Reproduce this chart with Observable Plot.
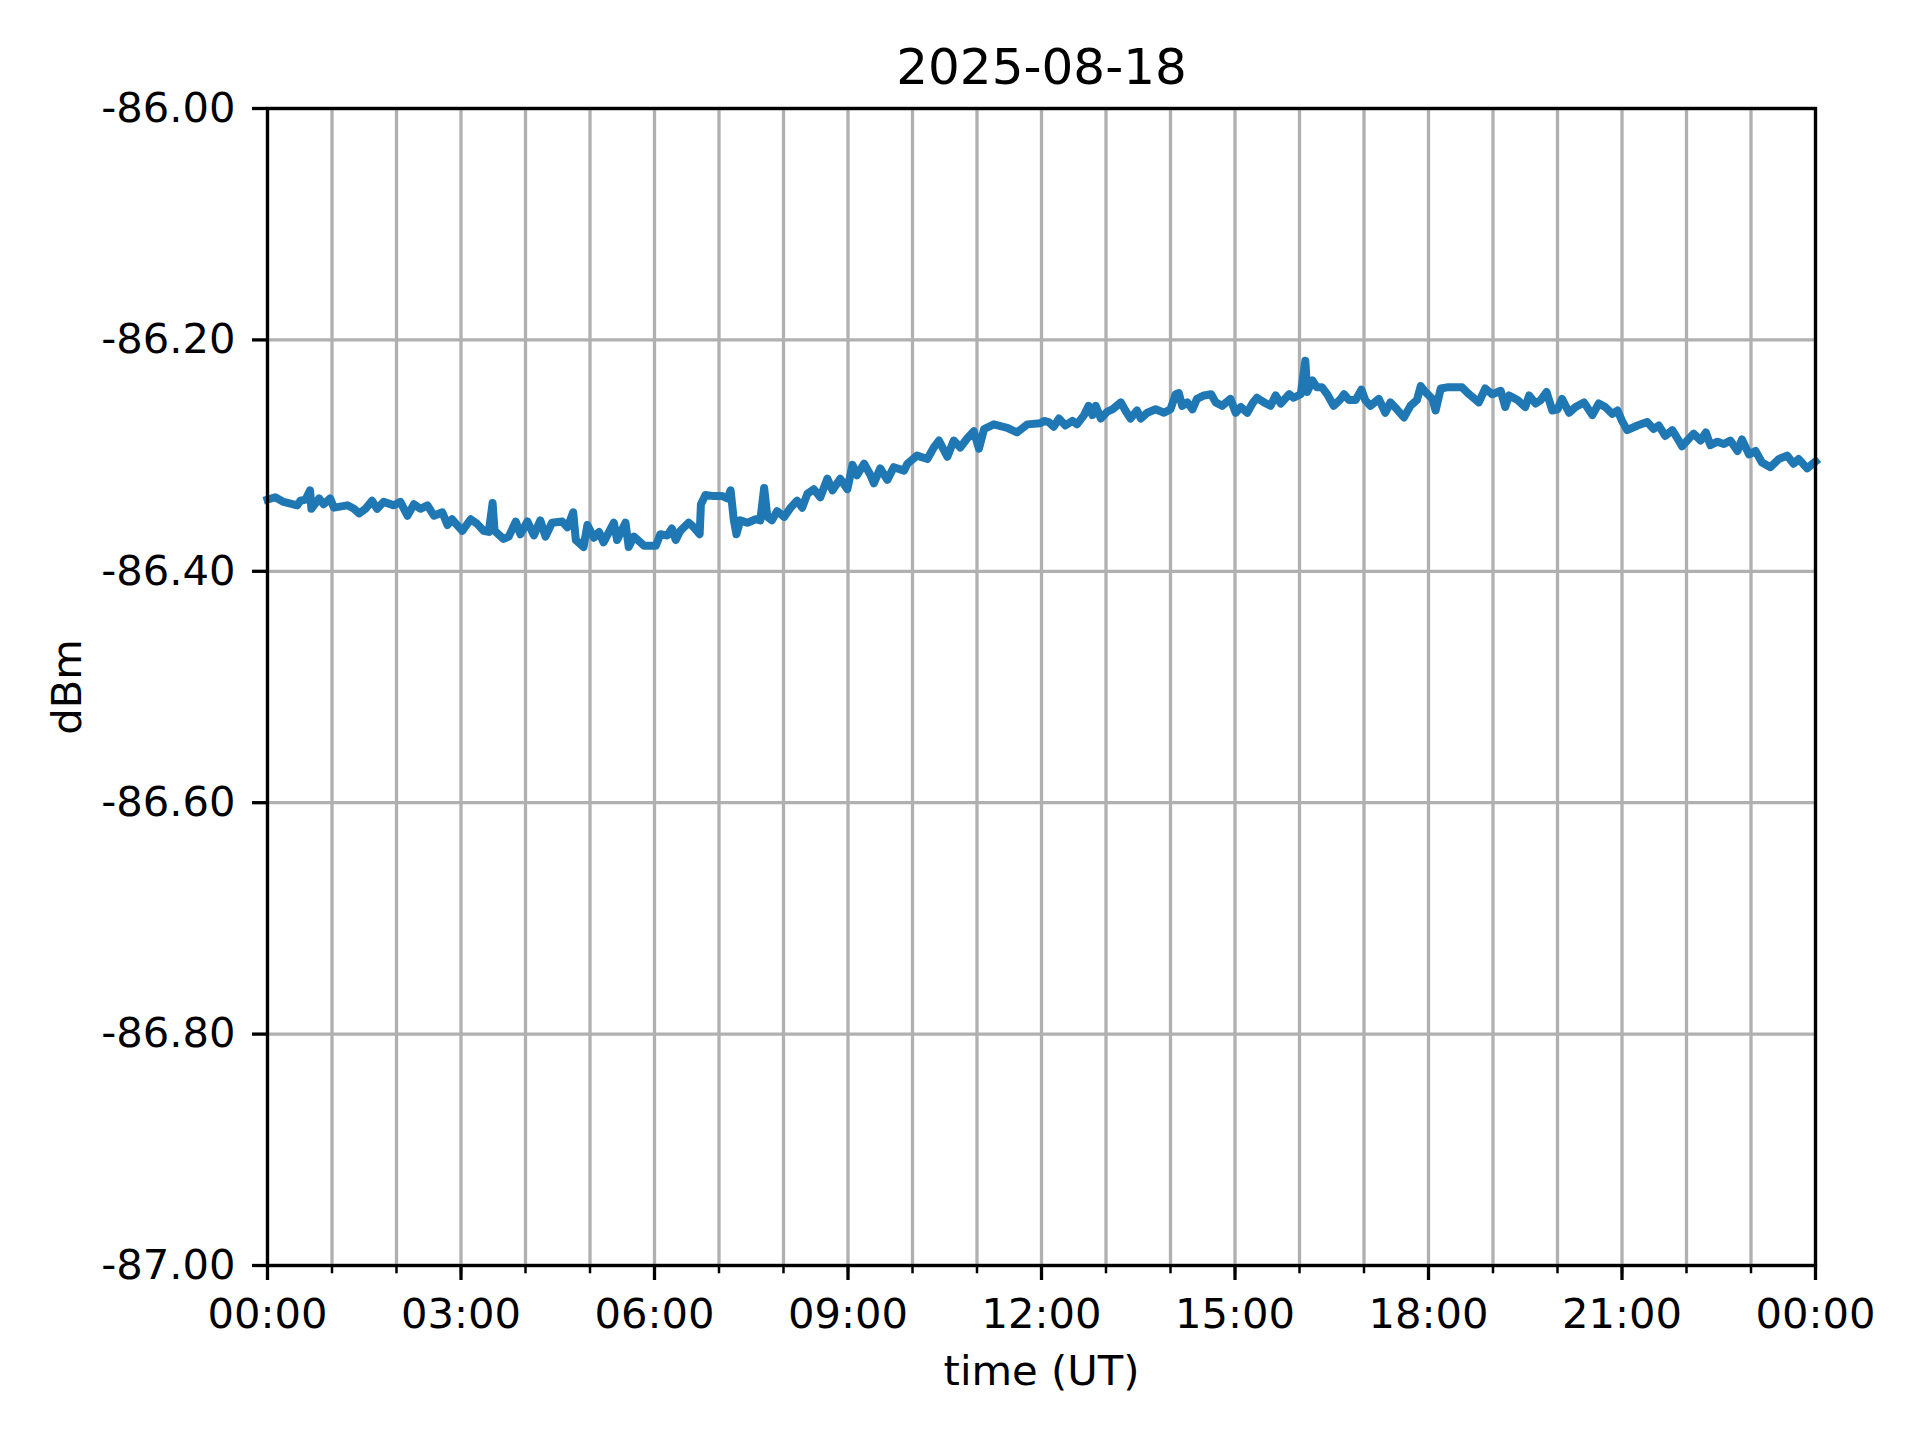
<!DOCTYPE html>
<html><head><meta charset="utf-8">
<script src="https://cdn.jsdelivr.net/npm/d3@7"></script>
<script src="https://cdn.jsdelivr.net/npm/@observablehq/plot@0.6"></script>
<style>body{margin:0;background:#fff} #chart svg{display:block}</style>
</head><body><div id="chart"></div>
<script>
const title = "2025-08-18";
const xLabel = "time (UT)";
const yLabel = "dBm";
const dayStart = "2025-08-18T00:00:00Z";
const dayEnd = "2025-08-19T00:00:00Z";
const yTicks = [-87, -86.8, -86.6, -86.4, -86.2, -86];

// hours after 00:00 UT
const hoursUT = [
 0.00,0.12,0.25,0.46,0.51,0.59,0.66,0.68,0.80,0.87,0.97,1.03,1.24,1.34,1.42,1.52,1.62,1.70,1.80,1.96,
 2.06,2.17,2.27,2.37,2.48,2.58,2.71,2.79,2.86,3.02,3.15,3.25,3.35,3.43,3.49,3.52,3.66,3.74,3.85,3.92,
 4.03,4.13,4.23,4.31,4.41,4.57,4.65,4.74,4.78,4.90,4.96,5.06,5.14,5.21,5.37,5.42,5.55,5.60,5.68,5.84,
 6.02,6.09,6.20,6.27,6.33,6.40,6.53,6.61,6.70,6.72,6.79,6.92,7.05,7.13,7.18,7.23,7.27,7.33,7.44,7.57,
 7.64,7.70,7.75,7.82,7.90,8.01,8.11,8.21,8.29,8.37,8.47,8.57,8.68,8.76,8.88,8.99,9.07,9.14,9.25,9.35,
 9.40,9.50,9.61,9.71,9.87,9.92,10.07,10.23,10.33,10.41,10.54,10.64,10.74,10.85,10.95,11.03,11.11,11.26,11.47,11.62,
 11.78,11.98,12.04,12.11,12.19,12.27,12.37,12.48,12.55,12.66,12.73,12.79,12.84,12.92,13.02,13.10,13.23,13.30,13.38,13.48,
 13.54,13.64,13.77,13.90,14.00,14.08,14.13,14.18,14.26,14.34,14.41,14.52,14.63,14.70,14.80,14.93,15.01,15.09,15.19,15.27,
 15.34,15.45,15.55,15.63,15.71,15.84,15.91,16.02,16.09,16.12,16.20,16.27,16.35,16.43,16.53,16.64,16.69,16.77,16.87,16.96,
 17.02,17.10,17.23,17.33,17.41,17.51,17.62,17.72,17.82,17.88,17.95,18.06,18.11,18.19,18.29,18.44,18.52,18.63,18.78,18.88,
 18.99,19.12,19.19,19.25,19.38,19.50,19.56,19.66,19.74,19.83,19.92,20.00,20.07,20.18,20.28,20.41,20.54,20.64,20.74,20.85,
 20.93,21.00,21.08,21.24,21.39,21.49,21.57,21.67,21.78,21.88,21.93,22.01,22.11,22.22,22.30,22.37,22.48,22.58,22.68,22.79,
 22.86,22.97,23.07,23.17,23.30,23.43,23.56,23.66,23.74,23.87,24.00
];
const dbm = [
 -86.338,-86.336,-86.340,-86.343,-86.339,-86.338,-86.330,-86.346,-86.337,-86.342,-86.337,-86.345,-86.343,-86.346,-86.350,-86.346,-86.339,-86.346,-86.340,-86.343,
 -86.340,-86.352,-86.342,-86.346,-86.343,-86.352,-86.349,-86.360,-86.355,-86.365,-86.355,-86.359,-86.365,-86.366,-86.341,-86.365,-86.372,-86.370,-86.357,-86.368,
 -86.357,-86.369,-86.356,-86.370,-86.358,-86.357,-86.362,-86.349,-86.373,-86.379,-86.360,-86.371,-86.366,-86.375,-86.358,-86.373,-86.358,-86.379,-86.370,-86.378,
 -86.378,-86.368,-86.369,-86.363,-86.373,-86.365,-86.358,-86.362,-86.368,-86.342,-86.334,-86.335,-86.335,-86.337,-86.330,-86.356,-86.368,-86.356,-86.358,-86.355,
 -86.356,-86.328,-86.353,-86.356,-86.348,-86.353,-86.345,-86.339,-86.345,-86.333,-86.329,-86.336,-86.320,-86.330,-86.320,-86.329,-86.308,-86.317,-86.307,-86.317,
 -86.324,-86.311,-86.321,-86.310,-86.313,-86.307,-86.300,-86.303,-86.293,-86.287,-86.301,-86.287,-86.293,-86.285,-86.279,-86.294,-86.277,-86.273,-86.276,-86.280,
 -86.273,-86.272,-86.270,-86.271,-86.275,-86.268,-86.274,-86.270,-86.273,-86.265,-86.257,-86.265,-86.257,-86.268,-86.262,-86.260,-86.254,-86.261,-86.268,-86.261,
 -86.268,-86.263,-86.260,-86.263,-86.260,-86.247,-86.246,-86.257,-86.254,-86.260,-86.251,-86.248,-86.247,-86.254,-86.257,-86.251,-86.263,-86.258,-86.263,-86.255,
 -86.250,-86.254,-86.257,-86.248,-86.255,-86.247,-86.250,-86.247,-86.218,-86.245,-86.235,-86.241,-86.241,-86.247,-86.257,-86.251,-86.247,-86.252,-86.252,-86.243,
 -86.252,-86.257,-86.251,-86.263,-86.254,-86.260,-86.267,-86.257,-86.252,-86.240,-86.245,-86.251,-86.261,-86.242,-86.241,-86.241,-86.241,-86.247,-86.254,-86.242,
 -86.247,-86.244,-86.258,-86.248,-86.252,-86.258,-86.248,-86.255,-86.252,-86.245,-86.261,-86.260,-86.251,-86.263,-86.258,-86.254,-86.265,-86.255,-86.258,-86.264,
 -86.261,-86.270,-86.278,-86.274,-86.271,-86.277,-86.274,-86.283,-86.278,-86.287,-86.292,-86.287,-86.281,-86.287,-86.280,-86.291,-86.288,-86.290,-86.287,-86.296,
 -86.286,-86.299,-86.296,-86.306,-86.310,-86.303,-86.300,-86.307,-86.303,-86.311,-86.305
];

const t0 = new Date(dayStart);
const t1 = new Date(dayEnd);
const data = hoursUT.map((h, i) => ({time: new Date(+t0 + h * 3600000), dbm: dbm[i]}));
const majorTicks = d3.utcHour.every(3).range(t0, new Date(+t1 + 1));
const minorTicks = d3.utcHour.every(1).range(t0, new Date(+t1 + 1));

const FS = 41.67;
const chart = Plot.plot({
  width: 1920, height: 1440,
  marginTop: 108, marginBottom: 175, marginLeft: 267, marginRight: 105,
  style: {fontFamily: "'DejaVu Sans', sans-serif", background: "#fff", color: "#000", fontSize: FS + "px"},
  x: {type: "utc", domain: [t0, t1]},
  y: {domain: [-87, -86]},
  marks: [
    Plot.gridX({ticks: minorTicks, stroke: "#b0b0b0", strokeOpacity: 1, strokeWidth: 3.3}),
    Plot.gridY({ticks: yTicks, stroke: "#b0b0b0", strokeOpacity: 1, strokeWidth: 3.3}),
    Plot.line(data, {x: "time", y: "dbm", stroke: "#1f77b4", strokeWidth: 8, strokeLinejoin: "round", strokeLinecap: "square"}),
    Plot.frame({stroke: "#000", strokeWidth: 3.3}),
    Plot.axisX({ticks: minorTicks, tickFormat: () => "", tickSize: 8.3, strokeWidth: 2.5, label: null}),
    Plot.axisX({ticks: majorTicks, tickFormat: d3.utcFormat("%H:%M"), tickSize: 15, tickPadding: 18, strokeWidth: 3.3, fontSize: FS, label: null}),
    Plot.axisY({ticks: yTicks, tickFormat: d => d.toFixed(2), tickSize: 15, tickPadding: 17, strokeWidth: 3.3, fontSize: FS, label: null}),
    Plot.text([title], {text: d => d, frameAnchor: "top", lineAnchor: "middle", dy: -41, fontSize: 50}),
    Plot.text([xLabel], {text: d => d, frameAnchor: "bottom", lineAnchor: "middle", dy: 106, fontSize: FS}),
    Plot.text([yLabel], {text: d => d, frameAnchor: "left", textAnchor: "middle", lineAnchor: "middle", dx: -200, rotate: -90, fontSize: FS})
  ]
});
document.getElementById("chart").append(chart);
</script>
</body></html>
